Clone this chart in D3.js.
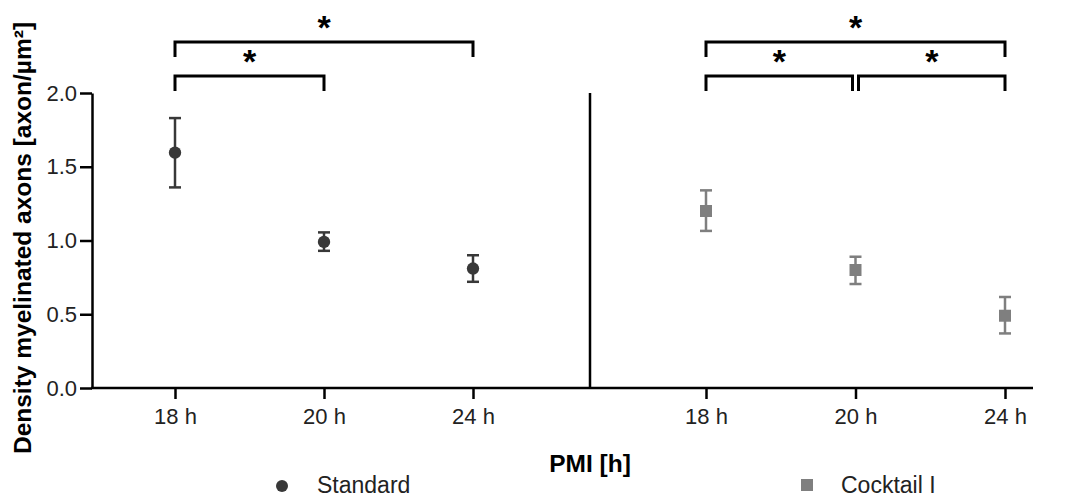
<!DOCTYPE html>
<html>
    <head>
        <meta charset="utf-8">
        <title> PMI myelinated axons </title>
        <script src="https://d3js.org/d3.v7.min.js"></script>
        <style>
            body { margin: 0; background: #fff; }
            text { font-family: Arial, "Liberation Sans", sans-serif; }
        </style>
    </head>

    <body>
        <div id="stage"></div>

        <script>
            // data
            var categories = ["18 h", "20 h", "24 h"];
            var standardMean = [1.595, 0.99, 0.81];
            var standardLow = [1.36, 0.93, 0.72];
            var standardHigh = [1.83, 1.055, 0.90];
            var cocktailMean = [1.20, 0.80, 0.49];
            var cocktailLow = [1.065, 0.705, 0.37];
            var cocktailHigh = [1.34, 0.89, 0.617];
            var yTicks = [0.0, 0.5, 1.0, 1.5, 2.0];
            // significance brackets: panel, from, to, level (0 = lower row)
            var brackets = [
                ["left", "18 h", "20 h", 0],
                ["left", "18 h", "24 h", 1],
                ["right", "18 h", "20 h", 0],
                ["right", "20 h", "24 h", 0],
                ["right", "18 h", "24 h", 1]
            ];

            var width = 1080, height = 497;
            var svg = d3.select("#stage").append("svg")
                .attr("width", width)
                .attr("height", height);

            var y = d3.scaleLinear().domain([0, 2]).range([388, 93]);
            var xLeft = d3.scalePoint().domain(categories).range([175, 473]);
            var xRight = d3.scalePoint().domain(categories).range([706, 1005]);
            var axisLeftX = 92, axisRightX = 1033, dividerX = 590;

            // y axis
            var yAxis = svg.append("g")
                .attr("transform", "translate(" + axisLeftX + ",0)")
                .call(d3.axisLeft(y).tickValues(yTicks).tickFormat(d3.format(".1f")).tickSize(12).tickPadding(3).tickSizeOuter(0));
            yAxis.select(".domain").attr("stroke-width", 2.5);
            yAxis.selectAll(".tick line").attr("stroke-width", 2.5);
            yAxis.selectAll("text").attr("font-size", 22).attr("fill", "#222");

            // x axis line + ticks for each panel
            svg.append("line")
                .attr("x1", axisLeftX - 1).attr("x2", axisRightX)
                .attr("y1", y(0)).attr("y2", y(0))
                .attr("stroke", "#000").attr("stroke-width", 2.5);

            [xLeft, xRight].forEach(function(sc) {
                var g = svg.append("g")
                    .attr("transform", "translate(0," + y(0) + ")")
                    .call(d3.axisBottom(sc).tickSize(11).tickPadding(9).tickSizeOuter(0));
                g.select(".domain").remove();
                g.selectAll(".tick line").attr("stroke-width", 2.5);
                g.selectAll("text").attr("font-size", 22).attr("fill", "#222");
            });

            // divider between panels
            svg.append("line")
                .attr("x1", dividerX).attr("x2", dividerX)
                .attr("y1", y(2)).attr("y2", y(0))
                .attr("stroke", "#000").attr("stroke-width", 2.5);

            // series
            function drawSeries(sc, mean, low, high, color, shape) {
                var data = categories.map(function(c, i) {
                    return { cat: c, m: mean[i], lo: low[i], hi: high[i] };
                });
                var g = svg.append("g");
                g.selectAll(".err").data(data).enter().append("line")
                    .attr("x1", function(d) { return sc(d.cat); })
                    .attr("x2", function(d) { return sc(d.cat); })
                    .attr("y1", function(d) { return y(d.lo); })
                    .attr("y2", function(d) { return y(d.hi); })
                    .attr("stroke", color).attr("stroke-width", 2.5);
                ["lo", "hi"].forEach(function(k) {
                    g.selectAll(".cap" + k).data(data).enter().append("line")
                        .attr("x1", function(d) { return sc(d.cat) - 6; })
                        .attr("x2", function(d) { return sc(d.cat) + 6; })
                        .attr("y1", function(d) { return y(d[k]); })
                        .attr("y2", function(d) { return y(d[k]); })
                        .attr("stroke", color).attr("stroke-width", 2.5);
                });
                g.selectAll(".pt").data(data).enter().append("path")
                    .attr("transform", function(d) { return "translate(" + sc(d.cat) + "," + y(d.m) + ")"; })
                    .attr("d", d3.symbol().type(shape).size(shape === d3.symbolSquare ? 144 : 120))
                    .attr("fill", color);
            }
            drawSeries(xLeft, standardMean, standardLow, standardHigh, "#383838", d3.symbolCircle);
            drawSeries(xRight, cocktailMean, cocktailLow, cocktailHigh, "#7f7f7f", d3.symbolSquare);

            // significance brackets
            var levelY = [76, 42];
            brackets.forEach(function(b) {
                var sc = b[0] === "left" ? xLeft : xRight;
                var x1 = sc(b[1]), x2 = sc(b[2]);
                // leave a small gap where two lower brackets meet
                if (b[3] === 0 && b[0] === "right") {
                    if (b[2] === "20 h") x2 -= 3;
                    if (b[1] === "20 h") x1 += 3;
                }
                var yy = levelY[b[3]];
                svg.append("path")
                    .attr("d", "M" + x1 + "," + (yy + 15) + "V" + yy + "H" + x2 + "V" + (yy + 15))
                    .attr("fill", "none").attr("stroke", "#000").attr("stroke-width", 3);
                svg.append("text")
                    .attr("x", (x1 + x2) / 2).attr("y", yy - 3)
                    .attr("text-anchor", "middle")
                    .attr("font-size", 34).attr("font-weight", "bold")
                    .text("*");
            });

            // axis titles
            svg.append("text")
                .attr("transform", "translate(31,238) rotate(-90)")
                .attr("text-anchor", "middle")
                .attr("font-size", 24.5).attr("font-weight", "bold")
                .text("Density myelinated axons [axon/µm²]");
            svg.append("text")
                .attr("x", dividerX).attr("y", 472)
                .attr("text-anchor", "middle")
                .attr("font-size", 24.5).attr("font-weight", "bold")
                .text("PMI [h]");

            // legend
            svg.append("circle").attr("cx", 282).attr("cy", 486).attr("r", 6).attr("fill", "#383838");
            svg.append("text").attr("x", 317).attr("y", 493).attr("font-size", 23).attr("fill", "#222").text("Standard");
            svg.append("rect").attr("x", 801).attr("y", 479).attr("width", 12).attr("height", 12).attr("fill", "#7f7f7f");
            svg.append("text").attr("x", 841).attr("y", 493).attr("font-size", 23).attr("fill", "#222").text("Cocktail I");
        </script>
    </body>
</html>
